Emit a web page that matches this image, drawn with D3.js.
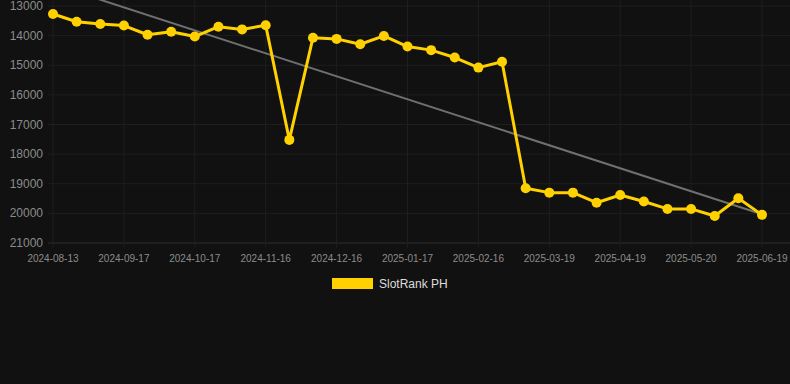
<!DOCTYPE html>
<head>
    <meta charset="utf-8">
    <script src="https://d3js.org/d3.v7.min.js"></script>
    <style>
      body { margin: 0; background: #111111; }
      text { font-family: "Liberation Sans", Arial, sans-serif; }
    </style>
</head>
<body>
    <script>
        // categories (only every 3rd is labelled on the axis)
        var dates = ["2024-08-13","2024-08-25","2024-09-05","2024-09-17","2024-09-27","2024-10-07",
          "2024-10-17","2024-10-27","2024-11-06","2024-11-16","2024-11-26","2024-12-06",
          "2024-12-16","2024-12-27","2025-01-06","2025-01-17","2025-01-27","2025-02-06",
          "2025-02-16","2025-02-26","2025-03-09","2025-03-19","2025-03-29","2025-04-09",
          "2025-04-19","2025-04-29","2025-05-10","2025-05-20","2025-05-30","2025-06-09","2025-06-19"]
        var ranks = [13270,13530,13610,13660,13970,13870,14030,13700,13790,13650,17520,
          14070,14110,14290,14010,14370,14490,14740,15080,14880,
          19150,19300,19300,19640,19380,19600,19850,19850,20090,19490,20050]
        var trendEnds = [12270, 20030]
        var yTicks = [13000,14000,15000,16000,17000,18000,19000,20000,21000]
        var seriesName = "SlotRank PH"

        var w = 790, h = 384
        var svg = d3.select("body").append("svg")
          .attr("width", w)
          .attr("height", h)

        svg.append("rect").attr("width", w).attr("height", h).attr("fill", "#111111")

        var x = d3.scalePoint().domain(dates).range([53, 762])
        var y = d3.scaleLinear().domain([13000, 21000]).range([6, 243])

        // gridlines
        svg.append("g").selectAll("line")
          .data(yTicks)
          .enter().append("line")
          .attr("x1", 48).attr("x2", w)
          .attr("y1", function(d){return y(d)}).attr("y2", function(d){return y(d)})
          .attr("stroke", function(d){return d==21000 ? "#2e2e2e" : "#1e1e1e"})
          .attr("stroke-width", 1)

        var labelled = dates.filter(function(d,i){return i%3==0})
        svg.append("g").selectAll("line")
          .data(labelled)
          .enter().append("line")
          .attr("x1", function(d){return x(d)}).attr("x2", function(d){return x(d)})
          .attr("y1", 0).attr("y2", 248)
          .attr("stroke", "#1e1e1e")

        // y labels
        svg.append("g").selectAll("text")
          .data(yTicks)
          .enter().append("text")
          .attr("x", 43)
          .attr("y", function(d){return y(d)+4})
          .attr("text-anchor", "end")
          .attr("font-size", "12px")
          .attr("fill", "#8c8c8c")
          .text(function(d){return d})

        // x labels
        svg.append("g").selectAll("text")
          .data(labelled)
          .enter().append("text")
          .attr("x", function(d){return x(d)})
          .attr("y", 262)
          .attr("text-anchor", "middle")
          .attr("font-size", "10px")
          .attr("fill", "#8c8c8c")
          .text(function(d){return d})

        // trend line
        svg.append("line")
          .attr("x1", x(dates[0])).attr("y1", y(trendEnds[0]))
          .attr("x2", x(dates[dates.length-1])).attr("y2", y(trendEnds[1]))
          .attr("stroke", "#707070")
          .attr("stroke-width", 2)

        var line = d3.line()
          .x(function(d,i){return x(dates[i])})
          .y(function(d){return y(d)})

        svg.append("path")
          .datum(ranks)
          .attr("d", line)
          .attr("fill", "none")
          .attr("stroke", "#ffd100")
          .attr("stroke-width", 3)
          .attr("stroke-linejoin", "round")

        svg.append("g").selectAll("circle")
          .data(ranks)
          .enter().append("circle")
          .attr("cx", function(d,i){return x(dates[i])})
          .attr("cy", function(d){return y(d)})
          .attr("r", 5)
          .attr("fill", "#ffd100")

        // legend
        svg.append("rect")
          .attr("x", 332).attr("y", 278)
          .attr("width", 41).attr("height", 11)
          .attr("fill", "#ffd100")
        svg.append("text")
          .attr("x", 379).attr("y", 288)
          .attr("font-size", "12px")
          .attr("fill", "#dddddd")
          .text(seriesName)
    </script>
</body>
